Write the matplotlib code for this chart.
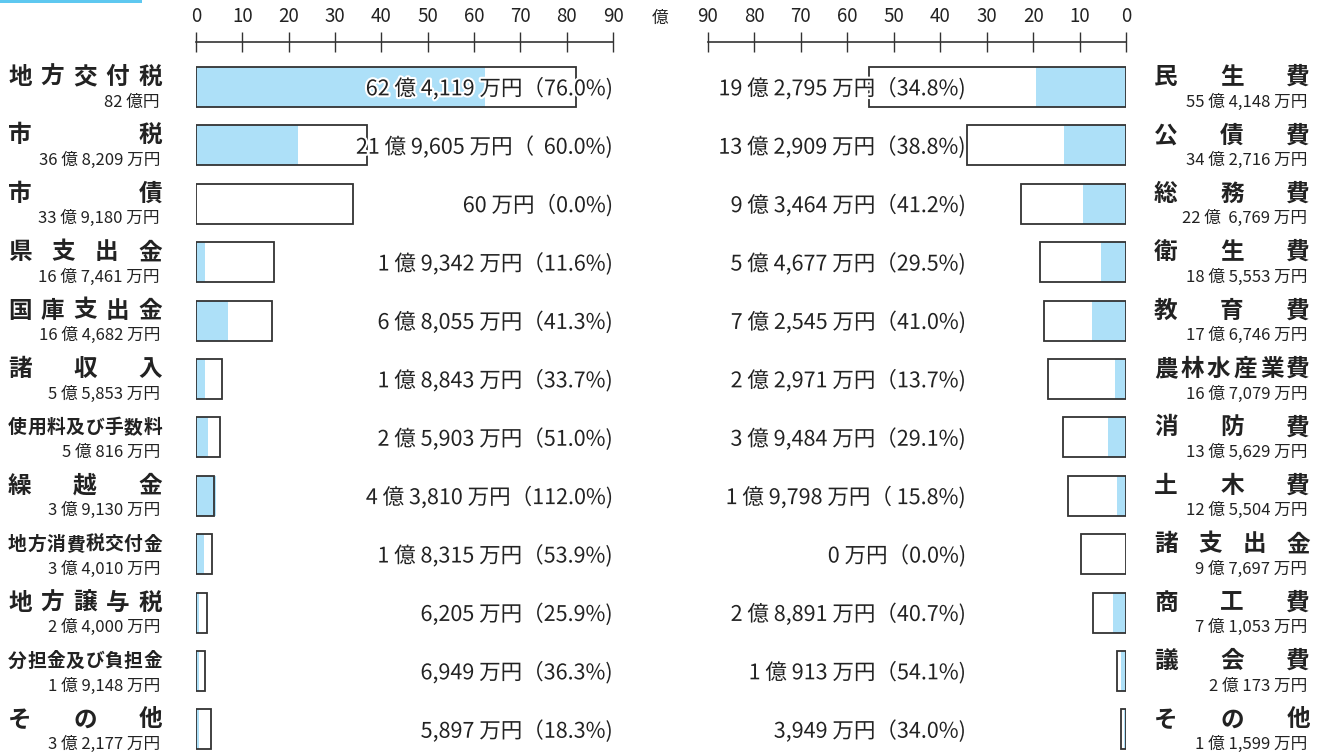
import matplotlib
matplotlib.use("Agg")
import matplotlib.pyplot as plt
import matplotlib.patheffects as pe
from matplotlib.transforms import blended_transform_factory
from matplotlib.patches import Rectangle

plt.rcParams['font.family'] = ['Noto Sans CJK JP', 'DejaVu Sans']

# 歳入 (億円)
rev_names = ['地方交付税', '市税', '市債', '県支出金', '国庫支出金', '諸収入',
             '使用料及び手数料', '繰越金', '地方消費税交付金', '地方譲与税',
             '分担金及び負担金', 'その他']
rev_budget = [82.0, 36.8209, 33.9180, 16.7461, 16.4682, 5.5853,
              5.0816, 3.9130, 3.4010, 2.4000, 1.9148, 3.2177]
rev_actual = [62.4119, 21.9605, 0.0060, 1.9342, 6.8055, 1.8843,
              2.5903, 4.3810, 1.8315, 0.6205, 0.6949, 0.5897]
rev_budget_txt = ['82 億円', '36 億 8,209 万円', '33 億 9,180 万円', '16 億 7,461 万円',
                  '16 億 4,682 万円', '5 億 5,853 万円', '5 億 816 万円', '3 億 9,130 万円',
                  '3 億 4,010 万円', '2 億 4,000 万円', '1 億 9,148 万円', '3 億 2,177 万円']
rev_actual_txt = ['62 億 4,119 万円（76.0%)', '21 億 9,605 万円（  60.0%)', '60 万円（0.0%)',
                  '1 億 9,342 万円（11.6%)', '6 億 8,055 万円（41.3%)', '1 億 8,843 万円（33.7%)',
                  '2 億 5,903 万円（51.0%)', '4 億 3,810 万円（112.0%)', '1 億 8,315 万円（53.9%)',
                  '6,205 万円（25.9%)', '6,949 万円（36.3%)', '5,897 万円（18.3%)']

# 歳出 (億円)
exp_names = ['民生費', '公債費', '総務費', '衛生費', '教育費', '農林水産業費',
             '消防費', '土木費', '諸支出金', '商工費', '議会費', 'その他']
exp_budget = [55.4148, 34.2716, 22.6769, 18.5553, 17.6746, 16.7079,
              13.5629, 12.5504, 9.7697, 7.1053, 2.0173, 1.1599]
exp_actual = [19.2795, 13.2909, 9.3464, 5.4677, 7.2545, 2.2971,
              3.9484, 1.9798, 0.0, 2.8891, 1.0913, 0.3949]
exp_budget_txt = ['55 億 4,148 万円', '34 億 2,716 万円', '22 億  6,769 万円', '18 億 5,553 万円',
                  '17 億 6,746 万円', '16 億 7,079 万円', '13 億 5,629 万円', '12 億 5,504 万円',
                  '9 億 7,697 万円', '7 億 1,053 万円', '2 億 173 万円', '1 億 1,599 万円']
exp_actual_txt = ['19 億 2,795 万円（34.8%)', '13 億 2,909 万円（38.8%)', '9 億 3,464 万円（41.2%)',
                  '5 億 4,677 万円（29.5%)', '7 億 2,545 万円（41.0%)', '2 億 2,971 万円（13.7%)',
                  '3 億 9,484 万円（29.1%)', '1 億 9,798 万円（ 15.8%)', '0 万円（0.0%)',
                  '2 億 8,891 万円（40.7%)', '1 億 913 万円（54.1%)', '3,949 万円（34.0%)']

ticks = [0, 10, 20, 30, 40, 50, 60, 70, 80, 90]

W, H = 1325, 754
fig = plt.figure(figsize=(W / 100, H / 100), dpi=100)

FILL = '#ade0f8'
EDGE = '#333333'
TXT = '#222222'
rows = list(range(len(rev_names)))
y0, dy = 87, 58.4
ylim = ((H - y0) / dy, -y0 / dy)
bar_h = 40 / dy

axL = fig.add_axes([196 / W, 0, (613 - 196) / W, 1])
axR = fig.add_axes([708 / W, 0, (1126 - 708) / W, 1])


def draw_side(ax, budget, actual, xlim):
    ax.set_xlim(*xlim)
    ax.set_ylim(*ylim)
    ax.patch.set_visible(False)
    ax.barh(rows, budget, height=bar_h, color='white', edgecolor='none', zorder=1)
    ax.barh(rows, actual, height=bar_h, color=FILL, edgecolor='none', zorder=2)
    ax.barh(rows, budget, height=bar_h, color='none', edgecolor=EDGE, linewidth=1.3, zorder=3)
    for s in ['left', 'right', 'bottom']:
        ax.spines[s].set_visible(False)
    ax.spines['top'].set_position(('data', (42 - y0) / dy))
    ax.spines['top'].set_color(EDGE)
    ax.spines['top'].set_linewidth(1.2)
    ax.set_yticks([])
    ax.set_xticks(ticks)
    ax.set_xticklabels([str(t) for t in ticks])
    ax.xaxis.set_ticks_position('top')
    ax.tick_params(axis='x', direction='inout', length=14, width=1.0, color=EDGE,
                   pad=4, labelsize=13.5, labelcolor=TXT)


draw_side(axL, rev_budget, rev_actual, (0, 90))
draw_side(axR, exp_budget, exp_actual, (90, 0))

fig.text(660 / W, 1 - 18 / H, '億', ha='center', va='center', fontsize=12, color=TXT)

halo = [pe.withStroke(linewidth=3, foreground='white')]


def spaced_name(ax, name, row, x_left, x_right):
    tr = blended_transform_factory(fig.transFigure, ax.transData)
    n = len(name)
    fs = 17 if n <= 6 else 13.5
    cw = fs * 1.39
    yv = row - 10 / dy
    if n == 1:
        xs = [x_left + cw / 2]
    else:
        step = (x_right - x_left - cw) / (n - 1)
        xs = [x_left + cw / 2 + i * step for i in range(n)]
    for ch, xc in zip(name, xs):
        ax.text(xc / W, yv, ch, transform=tr, ha='center', va='center',
                fontsize=fs, fontweight='bold', color=TXT)


trL = blended_transform_factory(fig.transFigure, axL.transData)
trR = blended_transform_factory(fig.transFigure, axR.transData)
for i in rows:
    spaced_name(axL, rev_names[i], i, 8, 162)
    axL.text(160 / W, i + 15 / dy, rev_budget_txt[i], transform=trL, ha='right', va='center',
             fontsize=12, color=TXT)
    axL.text(613 / W, i + 2 / dy, rev_actual_txt[i], transform=trL, ha='right', va='center',
             fontsize=15.5, color=TXT, path_effects=halo, zorder=5)

    spaced_name(axR, exp_names[i], i, 1154, 1310)
    axR.text(1307 / W, i + 15 / dy, exp_budget_txt[i], transform=trR, ha='right', va='center',
             fontsize=12, color=TXT)
    axR.text(966 / W, i + 2 / dy, exp_actual_txt[i], transform=trR, ha='right', va='center',
             fontsize=15.5, color=TXT, path_effects=halo, zorder=5)

# 上端の飾り線
fig.patches.append(Rectangle((0, 1 - 3 / H), 142 / W, 3 / H, transform=fig.transFigure,
                             facecolor='#5ec8f0', edgecolor='none'))

fig.savefig('out.png', dpi=100)
